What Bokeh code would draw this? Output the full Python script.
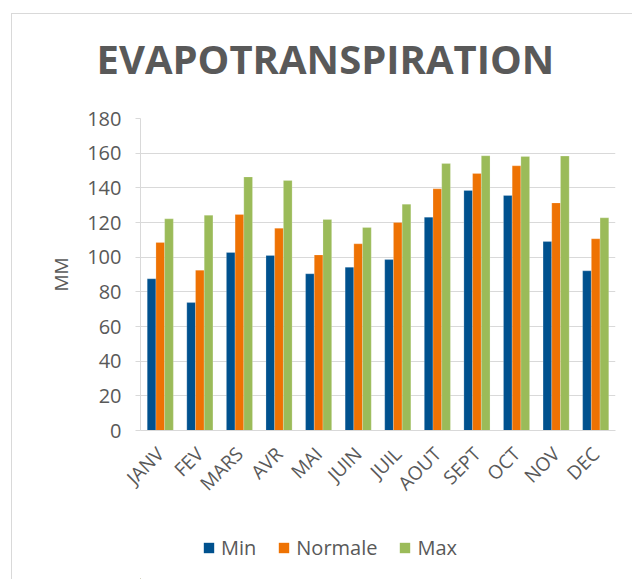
import math
from bokeh.plotting import figure
from bokeh.layouts import column
from bokeh.models import (FactorRange, Range1d, FixedTicker, Legend, LegendItem, Title)
from bokeh.transform import dodge
from bokeh.embed import file_html
from bokeh.resources import INLINE

months = ["JANV", "FEV", "MARS", "AVR", "MAI", "JUIN", "JUIL", "AOUT", "SEPT", "OCT", "NOV", "DEC"]
min_vals = [87.5, 73.8, 102.7, 101.0, 90.4, 94.2, 98.6, 123.1, 138.5, 135.6, 109.0, 92.1]
normale_vals = [108.5, 92.5, 124.6, 116.7, 101.3, 107.7, 120.0, 139.4, 148.3, 152.7, 131.3, 110.6]
max_vals = [122.1, 124.2, 146.3, 144.2, 121.7, 117.1, 130.6, 154.0, 158.5, 158.1, 158.3, 122.7]
series_names = ["Min", "Normale", "Max"]
y_ticks = [0, 20, 40, 60, 80, 100, 120, 140, 160, 180]
title_text = "EVAPOTRANSPIRATION"
y_label = "MM"

colors = ["#00518E", "#EE7203", "#9BBB59"]
FONT = "Open Sans"
GRAY = "#595959"

W = 620
H1, H2 = 496, 69
p = figure(x_range=FactorRange(*months, range_padding=0), y_range=Range1d(0, 180),
           width=W, height=H1, output_backend="svg", toolbar_location=None,
           title=title_text,
           min_border_left=128, min_border_right=17, min_border_top=104, min_border_bottom=80)
p.outline_line_color = None
p.background_fill_color = "white"
p.border_fill_color = "white"

p.title.text_font = FONT
p.title.text_font_size = "40px"
p.title.text_font_style = "bold"
p.title.text_color = GRAY
p.title.align = "left"
p.title.offset = -44
p.title.standoff = 0
# blank spacer between title and plot area
p.add_layout(Title(text=" ", text_font_size="1px", standoff=30), "above")

data = dict(month=months, Min=min_vals, Normale=normale_vals, Max=max_vals)
bw = 0.22
offsets = [-bw, 0.0, bw]
for name, col, off in zip(series_names, colors, offsets):
    p.vbar(x=dodge("month", off, range=p.x_range), top=name, width=bw, source=data,
           fill_color=col, line_color="white", line_alpha=0.35, line_width=0.6)

# axes
p.yaxis.ticker = FixedTicker(ticks=y_ticks)
p.yaxis.major_label_text_font = FONT
p.yaxis.major_label_text_font_size = "20px"
p.yaxis.major_label_text_color = GRAY
p.yaxis.major_tick_out = 5
p.yaxis.major_tick_in = 0
p.yaxis.minor_tick_line_color = None
p.yaxis.major_tick_line_color = "#d9d9d9"
p.yaxis.axis_line_color = "#d9d9d9"
p.yaxis.major_label_standoff = 14
p.yaxis.axis_label = y_label
p.yaxis.axis_label_text_font = FONT
p.yaxis.axis_label_text_font_size = "19px"
p.yaxis.axis_label_text_font_style = "normal"
p.yaxis.axis_label_text_color = GRAY
p.yaxis.axis_label_standoff = 10

p.xaxis.major_label_orientation = math.pi / 4
p.xaxis.major_label_text_font = FONT
p.xaxis.major_label_text_font_size = "19px"
p.xaxis.major_label_text_color = GRAY
p.xaxis.major_tick_line_color = None
p.xaxis.axis_line_color = "#d9d9d9"
p.xaxis.axis_line_width = 1
p.xaxis.major_label_standoff = 14

p.xgrid.grid_line_color = None
p.ygrid.grid_line_color = "#d9d9d9"
p.ygrid.grid_line_width = 1
p.ygrid.ticker = FixedTicker(ticks=y_ticks)

# legend in its own strip below the chart
pl = figure(width=W, height=H2, x_range=Range1d(0, W), y_range=Range1d(0, H2),
            output_backend="svg", toolbar_location=None,
            x_axis_location=None, y_axis_location=None, min_border=0)
pl.outline_line_color = None
pl.xgrid.grid_line_color = None
pl.ygrid.grid_line_color = None
pl.background_fill_color = "white"
pl.border_fill_color = "white"
items = []
for name, col in zip(series_names, colors):
    r = pl.vbar(x=[-100], top=[1], width=1, fill_color=col, line_color=None)
    items.append(LegendItem(label=name, renderers=[r]))
legend = Legend(items=items, orientation="horizontal", location=(62, 18),
                glyph_width=13, glyph_height=13, label_standoff=6, spacing=21,
                padding=0, margin=0, border_line_color=None, background_fill_alpha=0,
                label_text_font=FONT, label_text_font_size="20px", label_text_color=GRAY)
pl.add_layout(legend, "center")

layout = column(p, pl, spacing=0)
layout.styles = {"border-left": "1px solid #d9d9d9", "border-top": "1px solid #d9d9d9",
                 "margin-left": "11px", "margin-top": "13px"}

open("out.html", "w").write(file_html(layout, INLINE))
